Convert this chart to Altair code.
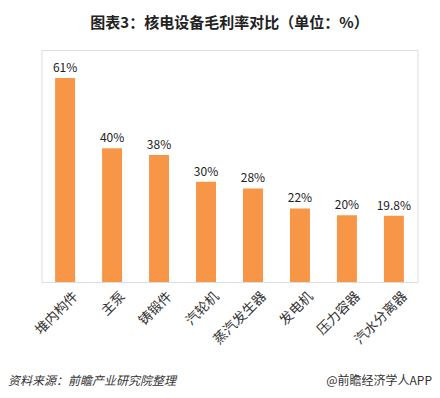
import altair as alt
import pandas as pd

categories = ["堆内构件", "主泵", "铸锻件", "汽轮机", "蒸汽发生器", "发电机", "压力容器", "汽水分离器"]
values = [61, 40, 38, 30, 28, 22, 20, 19.8]
labels = ["61%", "40%", "38%", "30%", "28%", "22%", "20%", "19.8%"]

df = pd.DataFrame({"cat": categories, "val": values, "lab": labels})

FONT = "Noto Sans CJK SC"
W, H = 376, 232

x = alt.X("cat:N", sort=categories, title=None,
          scale=alt.Scale(paddingInner=0.575, paddingOuter=0.29),
          axis=alt.Axis(labelAngle=-45, labelAlign="right", labelBaseline="top",
                        labelFont=FONT, labelFontSize=13.5, labelColor="#333333",
                        labelFontWeight="normal",
                        domain=False, ticks=False, labelPadding=7, labelOffset=6))
y = alt.Y("val:Q", title=None, scale=alt.Scale(domain=[0, 69.4], nice=False),
          axis=None)

bars = alt.Chart(df).mark_bar(color="#F79646").encode(x=x, y=y)
text = alt.Chart(df).mark_text(dy=-10, font=FONT, fontSize=12, color="#222222").encode(
    x=alt.X("cat:N", sort=categories), y="val:Q", text="lab:N")

foot_df = pd.DataFrame({"t": ["资料来源：前瞻产业研究院整理"]})
foot_l = alt.Chart(foot_df).mark_text(align="left", baseline="middle", font=FONT,
                                      fontSize=12, fontStyle="italic", color="#333333").encode(
    text="t:N", x=alt.value(-33.5), y=alt.value(H + 99))
foot_r_df = pd.DataFrame({"t": ["@前瞻经济学人APP"]})
foot_r = alt.Chart(foot_r_df).mark_text(align="right", baseline="middle", font=FONT,
                                        fontSize=12, color="#333333").encode(
    text="t:N", x=alt.value(W + 14.5), y=alt.value(H + 99))

chart = alt.layer(bars, text, foot_l, foot_r).properties(
    width=W, height=H,
    title=alt.TitleParams("图表3：核电设备毛利率对比（单位：%）", font=FONT, fontSize=15,
                          fontWeight="bold", color="#222222", anchor="middle", offset=19),
    padding={"left": 33.5, "top": 42, "right": 14, "bottom": 108},
    autosize=alt.AutoSizeParams(type="none"),
).configure_view(stroke=None).configure(background="white")

chart.save("out.html", embed_options={"renderer": "svg", "actions": False})
